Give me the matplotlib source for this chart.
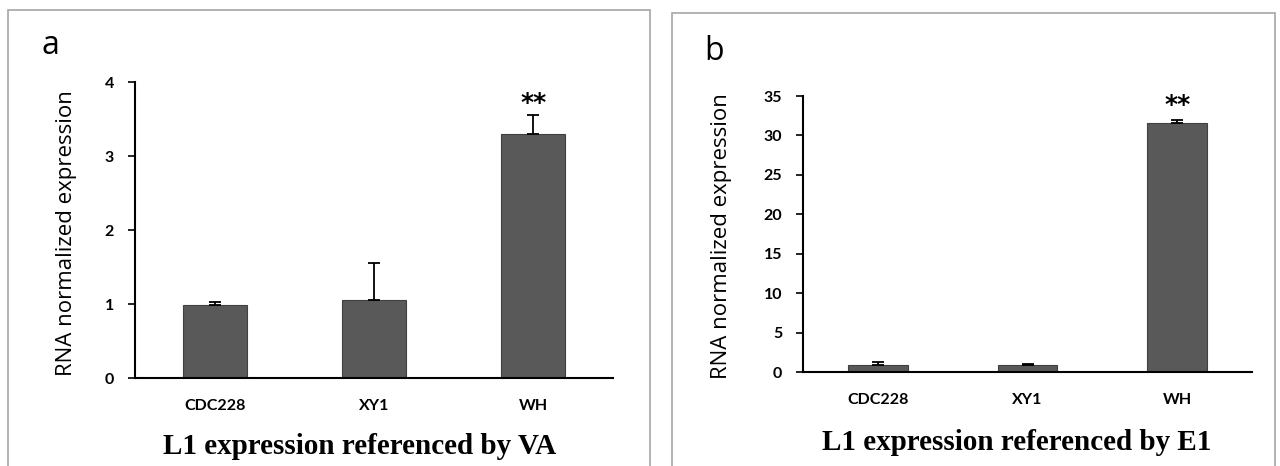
import matplotlib
matplotlib.use("Agg")
import matplotlib.pyplot as plt
from matplotlib.patches import Rectangle

# data
strains = ["CDC228", "XY1", "WH"]
va_mean = [0.98, 1.06, 3.30]
va_err = [0.05, 0.50, 0.25]
e1_mean = [0.90, 0.85, 31.6]
e1_err = [0.35, 0.15, 0.40]
va_ticks = [0, 1, 2, 3, 4]
e1_ticks = [0, 5, 10, 15, 20, 25, 30, 35]

W, H = 1280, 466
fig = plt.figure(figsize=(W / 100, H / 100), dpi=100)
fig.patch.set_facecolor("white")

def px_axes(x0, y_top, x1, y_bot):
    return fig.add_axes([x0 / W, 1 - y_bot / H, (x1 - x0) / W, (y_bot - y_top) / H])

# panel frames
for x0, y0, x1 in [(8, 10, 650), (672, 13, 1275)]:
    fig.add_artist(Rectangle((x0 / W, -0.05), (x1 - x0) / W, 1 - y0 / H + 0.05,
                             transform=fig.transFigure, fill=False,
                             edgecolor="#a6a6a6", lw=1.2))

tick_font = dict(family=["Lato", "DejaVu Sans"], weight="bold", size=11.5)
label_font = dict(family=["Open Sans", "DejaVu Sans"], size=16)
title_font = dict(family=["Liberation Serif"], weight="bold", size=21)

def draw_panel(ax, means, errs, ticks, star_y):
    x = range(len(strains))
    ax.bar(x, means, width=0.4, color="#595959", edgecolor="#404040", lw=0.8, zorder=2)
    ax.errorbar(x, means, yerr=[[0] * len(errs), errs], fmt="none",
                ecolor="black", elinewidth=1.3, capsize=4, capthick=1.3, zorder=3)
    ax.set_xlim(-0.5, len(strains) - 0.5)
    ax.set_ylim(ticks[0], ticks[-1])
    ax.set_yticks(ticks)
    ax.set_yticklabels([str(t) for t in ticks], **tick_font)
    ax.set_xticks(list(x))
    ax.set_xticklabels(strains, **tick_font)
    ax.tick_params(axis="x", length=0, pad=15)
    ax.tick_params(axis="y", length=5, width=1.2, pad=10)
    for s in ["top", "right"]:
        ax.spines[s].set_visible(False)
    for s in ["left", "bottom"]:
        ax.spines[s].set_linewidth(1.5)
    ax.text(2, star_y, "**", ha="center", va="center", fontsize=18,
            fontweight="bold", family=["DejaVu Sans"])

ax1 = px_axes(135, 82, 613, 378)
draw_panel(ax1, va_mean, va_err, va_ticks, 3.72)
ax2 = px_axes(803, 96, 1252, 372)
draw_panel(ax2, e1_mean, e1_err, e1_ticks, 33.8)

# axis titles, panel letters, bottom captions
fig.text(67 / W, 1 - 233 / H, "RNA normalized expression", rotation=90,
         ha="center", va="center", **label_font)
fig.text(722 / W, 1 - 236 / H, "RNA normalized expression", rotation=90,
         ha="center", va="center", **label_font)
fig.text(50 / W, 1 - 45 / H, "a", ha="center", va="center",
         family=["Open Sans", "DejaVu Sans"], size=23)
fig.text(714 / W, 1 - 52 / H, "b", ha="center", va="center",
         family=["Open Sans", "DejaVu Sans"], size=23)
fig.text(360 / W, 1 - 447 / H, "L1 expression referenced by VA",
         ha="center", va="center", **title_font)
fig.text(1017 / W, 1 - 443 / H, "L1 expression referenced by E1",
         ha="center", va="center", **title_font)

fig.savefig("out.png", dpi=100)
